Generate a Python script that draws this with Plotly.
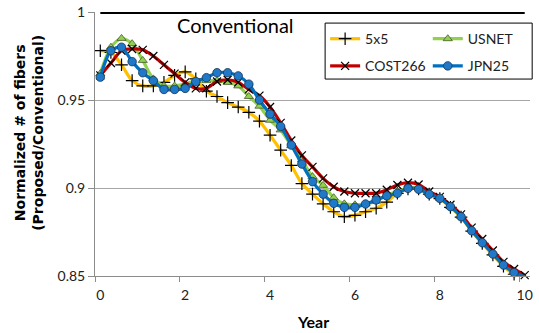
import plotly.graph_objects as go

years = [i * 0.25 for i in range(41)]

s_5x5 = [0.978, 0.977, 0.970, 0.961, 0.958, 0.958, 0.960, 0.964, 0.966, 0.962,
         0.955, 0.952, 0.9485, 0.946, 0.943, 0.938, 0.930, 0.9215, 0.9128, 0.9025,
         0.8965, 0.891, 0.8865, 0.8837, 0.8845, 0.8865, 0.8885, 0.892, 0.897, 0.8995,
         0.8995, 0.8965, 0.894, 0.889, 0.8835, 0.8755, 0.8685, 0.862, 0.8555, 0.851, 0.8488]
s_usnet = [0.965, 0.980, 0.985, 0.982, 0.9725, 0.962, 0.958, 0.958, 0.959, 0.961,
           0.961, 0.961, 0.960, 0.958, 0.952, 0.9465, 0.9385, 0.933, 0.924, 0.916,
           0.9065, 0.9015, 0.8945, 0.891, 0.8905, 0.891, 0.8925, 0.896, 0.898, 0.900,
           0.900, 0.897, 0.8945, 0.8895, 0.884, 0.8765, 0.8695, 0.863, 0.857, 0.8525, 0.8495]
s_cost266 = [0.964, 0.971, 0.978, 0.979, 0.9785, 0.975, 0.970, 0.965, 0.960, 0.9566,
             0.9566, 0.9605, 0.9615, 0.960, 0.956, 0.9525, 0.946, 0.937, 0.927, 0.9185,
             0.912, 0.9055, 0.9007, 0.898, 0.897, 0.897, 0.897, 0.899, 0.9017, 0.903,
             0.902, 0.898, 0.895, 0.8905, 0.885, 0.8775, 0.871, 0.8645, 0.858, 0.854, 0.8505]
s_jpn25 = [0.963, 0.978, 0.980, 0.9718, 0.9655, 0.961, 0.956, 0.956, 0.9566, 0.9605,
           0.9627, 0.9655, 0.9655, 0.9637, 0.959, 0.950, 0.942, 0.935, 0.9244, 0.9136,
           0.9036, 0.8965, 0.8913, 0.889, 0.889, 0.8909, 0.8932, 0.8955, 0.897, 0.8998,
           0.8993, 0.8964, 0.8941, 0.8894, 0.8837, 0.8757, 0.8689, 0.8625, 0.8562, 0.8519, 0.8496]

conventional_x = [0, 10]
conventional_y = [1, 1]

x_ticks = [0, 2, 4, 6, 8, 10]
y_ticks = [0.85, 0.9, 0.95, 1]
y_ticklabels = ["0.85", "0.9", "0.95", "1"]

FONT = "Lato"

fig = go.Figure()

fig.add_trace(go.Scatter(
    x=conventional_x, y=conventional_y, mode="lines",
    line=dict(color="black", width=4), showlegend=False, hoverinfo="skip",
    cliponaxis=False))

series = [
    ("5x5", s_5x5, "#FFC000", dict(symbol="cross-thin", size=9, color="black",
                                   line=dict(color="black", width=1.2)), "legend"),
    ("USNET", s_usnet, "#92D050", dict(symbol="triangle-up", size=8, color="#92D050",
                                       line=dict(color="#3a4a20", width=0.7)), "legend2"),
    ("COST266", s_cost266, "#C00000", dict(symbol="x-thin", size=8, color="black",
                                           line=dict(color="black", width=1.2)), "legend"),
    ("JPN25", s_jpn25, "#0070C0", dict(symbol="circle", size=8.5, color="#1F78C8",
                                       line=dict(color="#1d3550", width=0.8)), "legend2"),
]

for name, vals, col, mk, lg in series:
    fig.add_trace(go.Scatter(
        x=years, y=vals, name=name, mode="lines+markers",
        line=dict(color=col, width=3.2, shape="spline", smoothing=0.8),
        marker=mk, legend=lg, legendgroup=name, cliponaxis=False))

fig.update_layout(
    width=539, height=333,
    margin=dict(l=95, r=9, t=12, b=57, autoexpand=False),
    paper_bgcolor="white", plot_bgcolor="white",
    font=dict(family=FONT, size=14, color="#222"),
    xaxis=dict(
        range=[-0.125, 10.125], tickvals=x_ticks, ticks="", showgrid=False,
        automargin=False, ticklabeloverflow="allow",
        showline=True, linecolor="#8c8c8c", linewidth=1, zeroline=False,
        tickfont=dict(family=FONT, size=14, color="#222"),
        minor=dict(tick0=-0.125, dtick=2, ticks="outside", ticklen=5,
                   tickcolor="#8c8c8c", showgrid=False),
        ticklabelstandoff=6,
    ),
    yaxis=dict(
        range=[0.85, 1.0], tickvals=y_ticks, ticktext=y_ticklabels,
        automargin=False, ticklabeloverflow="allow",
        ticks="outside", ticklen=6, tickcolor="#8c8c8c",
        showgrid=True, gridcolor="#a6a6a6", gridwidth=1,
        showline=True, linecolor="#8c8c8c", linewidth=1, zeroline=False,
        tickfont=dict(family=FONT, size=14, color="#222"),
    ),
    legend=dict(x=0.529, y=0.958, xanchor="left", yanchor="top",
                bgcolor="rgba(0,0,0,0)", borderwidth=0, traceorder="grouped",
                tracegroupgap=6, font=dict(family=FONT, size=14, color="#222")),
    legend2=dict(x=0.765, y=0.958, xanchor="left", yanchor="top",
                 bgcolor="rgba(0,0,0,0)", borderwidth=0, traceorder="grouped",
                 tracegroupgap=6, font=dict(family=FONT, size=14, color="#222")),
    shapes=[dict(type="rect", xref="paper", yref="paper", x0=0.529, x1=1.005,
                 y0=0.746, y1=0.958, line=dict(color="black", width=1),
                 fillcolor="white", layer="above")],
    annotations=[
        dict(text="Conventional", xref="x", yref="paper", x=3.18, y=0.952,
             showarrow=False, font=dict(family=FONT, size=20, color="black"),
             xanchor="center", yanchor="middle"),
        dict(text="<b>Normalized # of fibers<br>(Proposed/Conventional)</b>",
             xref="paper", yref="paper", x=-0.152, y=0.542, textangle=-90,
             showarrow=False, font=dict(family="DejaVu Sans", size=14, color="black"),
             xanchor="center", yanchor="middle"),
        dict(text="<b>Year</b>", xref="paper", yref="paper", x=0.5, y=-0.174,
             showarrow=False, font=dict(family=FONT, size=16, color="black"),
             xanchor="center", yanchor="middle"),
    ],
)

# remove the default 8px page margin so the figure sits at the window's corner
fig.write_html("out.html",
               config={"displayModeBar": False},
               post_script="document.body.style.margin='0';document.body.style.overflow='hidden';")
